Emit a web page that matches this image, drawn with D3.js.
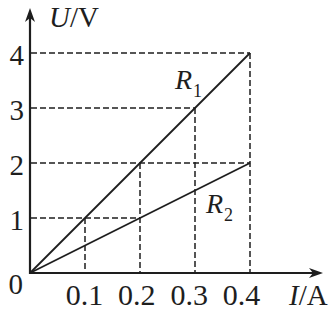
<!DOCTYPE html>
<html>
<head>
<meta charset="utf-8">
<script src="https://cdn.jsdelivr.net/npm/d3@7"></script>
<style>
  html, body { margin: 0; padding: 0; background: #fff; }
  svg { display: block; }
</style>
</head>
<body>
<svg id="chart" width="332" height="310"></svg>
<script>
  'use strict';

  // data
  var current = [0, 0.1, 0.2, 0.3, 0.4];          // I / A
  var voltageR1 = [0, 1, 2, 3, 4];                // U / V for R1
  var voltageR2 = [0, 0.5, 1, 1.5, 2];            // U / V for R2
  var xTicks = [0.1, 0.2, 0.3, 0.4];
  var yTicks = [1, 2, 3, 4];
  // dashed guide lines: horizontal to (i, u), vertical from (i, u) down
  var guideH = [{i: 0.4, u: 4}, {i: 0.3, u: 3}, {i: 0.4, u: 2}, {i: 0.2, u: 1}];
  var guideV = [{i: 0.1, u: 1}, {i: 0.2, u: 2}, {i: 0.3, u: 3}, {i: 0.4, u: 4}];

  var ink = '#1e1e1e';
  var serif = "'Liberation Serif', 'Times New Roman', Times, serif";
  var svg = d3.select('#chart');

  var x = d3.scaleLinear().domain([0, 0.4]).range([30, 250]);
  var y = d3.scaleLinear().domain([0, 4]).range([273, 53]);
  // the printed I labels sit a little tighter than the ticks
  var xLabel = d3.scaleLinear().domain([0.1, 0.4]).range([84.5, 241.5]);

  var xEnd = 323;  // arrow tip of I axis
  var yEnd = 8;    // arrow tip of U axis

  // dashed guides
  var guides = svg.append('g')
      .attr('class', 'guides')
      .attr('stroke', ink)
      .attr('stroke-width', 1.5)
      .attr('stroke-dasharray', '6,3');

  guides.selectAll('.h')
    .data(guideH)
    .enter().append('line')
      .attr('class', 'h')
      .attr('x1', x(0) + 1)
      .attr('x2', function(d) { return x(d.i); })
      .attr('y1', function(d) { return y(d.u); })
      .attr('y2', function(d) { return y(d.u); });

  guides.selectAll('.v')
    .data(guideV)
    .enter().append('line')
      .attr('class', 'v')
      .attr('x1', function(d) { return x(d.i); })
      .attr('x2', function(d) { return x(d.i); })
      .attr('y1', function(d) { return y(d.u); })
      .attr('y2', y(0) - 1);

  // the two characteristic lines
  var line = d3.line()
      .x(function(d) { return x(d[0]); })
      .y(function(d) { return y(d[1]); });

  [voltageR1, voltageR2].forEach(function(u) {
    svg.append('path')
        .datum(d3.zip(current, u))
        .attr('fill', 'none')
        .attr('stroke', ink)
        .attr('stroke-width', 1.8)
        .attr('d', line);
  });

  // axes with arrows
  var axes = svg.append('g').attr('class', 'axes');
  axes.append('line')
      .attr('x1', x(0)).attr('y1', y(0))
      .attr('x2', xEnd - 6).attr('y2', y(0))
      .attr('stroke', ink).attr('stroke-width', 2.2);
  axes.append('line')
      .attr('x1', x(0)).attr('y1', y(0) + 1)
      .attr('x2', x(0)).attr('y2', yEnd + 6)
      .attr('stroke', ink).attr('stroke-width', 2.2);

  var arrow = 'M0,0 L-14,-5 L-10,0 L-14,5 Z';
  axes.append('path')
      .attr('d', arrow)
      .attr('fill', ink)
      .attr('transform', 'translate(' + xEnd + ',' + y(0) + ')');
  axes.append('path')
      .attr('d', arrow)
      .attr('fill', ink)
      .attr('transform', 'translate(' + x(0) + ',' + yEnd + ') rotate(-90)');

  function label(px, py, size) {
    return svg.append('text')
        .attr('x', px)
        .attr('y', py)
        .attr('font-family', serif)
        .attr('font-size', size)
        .attr('fill', ink);
  }

  // tick labels
  xTicks.forEach(function(d) {
    label(xLabel(d), 305, 30)
        .attr('text-anchor', 'middle')
        .text(d3.format('.1f')(d));
  });

  yTicks.forEach(function(d) {
    label(24, y(d) + 12, 29)
        .attr('text-anchor', 'end')
        .text(d);
  });

  label(23, 294, 29)
      .attr('text-anchor', 'end')
      .text('0');

  // axis titles
  var uTitle = label(49, 27, 29);
  uTitle.append('tspan').attr('font-style', 'italic').text('U');
  uTitle.append('tspan').text('/V');

  var iTitle = label(289, 305, 29);
  iTitle.append('tspan').attr('font-style', 'italic').text('I');
  iTitle.append('tspan').text('/A');

  // series labels
  function seriesLabel(px, py, sub) {
    var t = label(px, py, 28);
    t.append('tspan').attr('font-style', 'italic').text('R');
    t.append('tspan')
        .attr('dy', 8)
        .attr('dx', 1)
        .attr('font-size', 18)
        .text(sub);
  }
  seriesLabel(175, 89, '1');
  seriesLabel(206, 213, '2');
</script>
</body>
</html>
